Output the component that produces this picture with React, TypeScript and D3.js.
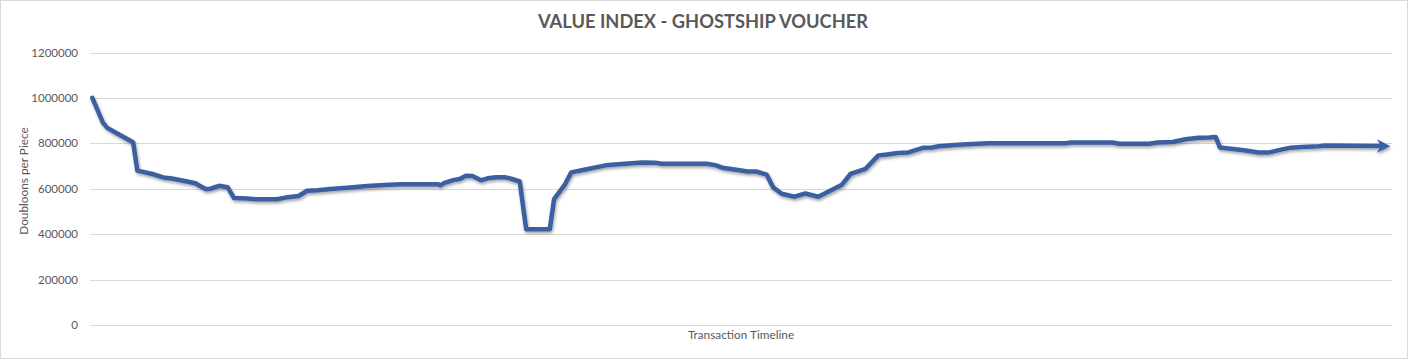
import React, { useEffect, useRef } from "react";
import * as d3 from "d3";

// transaction position along the timeline (0..600) and value
const timeline = [
  0, 5, 7, 12, 19, 21, 28, 33, 37, 43, 48, 50, 53, 55, 59, 63, 66, 72, 76, 86,
  91, 96, 100, 105, 111, 120, 128, 136, 144, 161, 162, 164, 168, 171, 174, 177,
  181, 184, 188, 192, 195, 199, 202, 213, 215, 220, 223, 229, 239, 248, 256,
  262, 265, 286, 290, 294, 299, 305, 309, 314, 317, 321, 327, 332, 338, 349,
  353, 360, 366, 370, 375, 380, 387, 391, 394, 403, 410, 417, 453, 456, 475,
  478, 492, 496, 503, 509, 515, 520, 523, 525, 530, 537, 543, 548, 553, 558,
  563, 571, 574, 600,
];
const values = [
  1000000, 890000, 868000, 841000, 805000, 680000, 665000, 650000, 645000,
  634000, 624000, 613000, 598000, 600000, 613000, 607000, 559000, 557000,
  554000, 554000, 563000, 568000, 591000, 593000, 599000, 606000, 612000,
  616000, 620000, 620000, 615000, 626000, 638000, 643000, 657000, 656000,
  637000, 646000, 651000, 651000, 644000, 632000, 422000, 422000, 554000,
  618000, 672000, 684000, 703000, 710000, 716000, 715000, 710000, 710000,
  704000, 691000, 685000, 676000, 676000, 662000, 606000, 578000, 565000,
  579000, 565000, 618000, 665000, 688000, 747000, 751000, 757000, 760000,
  781000, 782000, 787000, 794000, 797000, 800000, 800000, 804000, 804000,
  798000, 798000, 804000, 806000, 818000, 825000, 826000, 828000, 782000,
  776000, 768000, 760000, 760000, 771000, 781000, 784000, 787000, 790000,
  788000,
];
const yTicks = [0, 200000, 400000, 600000, 800000, 1000000, 1200000];

const title = "VALUE INDEX - GHOSTSHIP VOUCHER";
const yTitle = "Doubloons per Piece";
const xTitle = "Transaction Timeline";

const App = () => {
  const svgRef = useRef<SVGSVGElement>(null);

  useEffect(() => {
    const width = 1408,
      height = 359;
    const textColor = "#595959",
      gridColor = "#d9d9d9",
      lineColor = "#3a5fa1";
    const font = "Lato, 'Open Sans', sans-serif";

    const svg = d3
      .select(svgRef.current)
      .attr("width", width)
      .attr("height", height)
      .html("");

    const defs = svg.append("defs");
    const shadow = defs
      .append("filter")
      .attr("id", "shadow")
      .attr("x", "-5%")
      .attr("y", "-20%")
      .attr("width", "110%")
      .attr("height", "140%");
    shadow
      .append("feDropShadow")
      .attr("dx", 1)
      .attr("dy", 2)
      .attr("stdDeviation", 1.5)
      .attr("flood-color", "#000")
      .attr("flood-opacity", 0.35);

    defs
      .append("marker")
      .attr("id", "arrow")
      .attr("viewBox", "0 0 10 10")
      .attr("refX", 3)
      .attr("refY", 5)
      .attr("markerWidth", 3)
      .attr("markerHeight", 3)
      .attr("orient", "auto")
      .append("path")
      .attr("d", "M0,0 L10,5 L0,10 L3,5 Z")
      .attr("fill", lineColor);

    // chart frame
    svg
      .append("rect")
      .attr("x", 0.5)
      .attr("y", 0.5)
      .attr("width", width - 1)
      .attr("height", height - 1)
      .attr("fill", "#fff")
      .attr("stroke", gridColor);

    const x = d3.scaleLinear().domain([0, 600]).range([92.3, 1381]);
    const y = d3.scaleLinear().domain([0, 1200000]).range([325, 52.5]);

    // gridlines
    svg
      .append("g")
      .selectAll("line")
      .data(yTicks)
      .enter()
      .append("line")
      .attr("x1", 90)
      .attr("x2", 1392)
      .attr("y1", (d) => Math.round(y(d)) + 0.5)
      .attr("y2", (d) => Math.round(y(d)) + 0.5)
      .attr("stroke", gridColor)
      .attr("stroke-width", 1);

    // tick labels
    svg
      .append("g")
      .selectAll("text")
      .data(yTicks)
      .enter()
      .append("text")
      .attr("x", 78)
      .attr("y", (d) => y(d))
      .attr("dy", "0.35em")
      .attr("text-anchor", "end")
      .style("font-family", font)
      .style("font-size", "11.5px")
      .style("fill", textColor)
      .text((d) => d);

    // line
    const line = d3
      .line<number>()
      .x((_, i) => x(timeline[i]))
      .y((d) => y(d));

    svg
      .append("path")
      .datum(values)
      .attr("d", line)
      .attr("fill", "none")
      .attr("stroke", lineColor)
      .attr("stroke-width", 4.5)
      .attr("stroke-linejoin", "round")
      .attr("stroke-linecap", "round")
      .attr("marker-end", "url(#arrow)")
      .attr("filter", "url(#shadow)");

    // titles
    svg
      .append("text")
      .attr("x", 703)
      .attr("y", 28)
      .attr("text-anchor", "middle")
      .style("font-family", font)
      .style("font-size", "18.3px")
      .style("font-weight", "bold")
      .style("fill", textColor)
      .text(title);

    svg
      .append("text")
      .attr("transform", "translate(28, 181) rotate(-90)")
      .attr("text-anchor", "middle")
      .style("font-family", font)
      .style("font-size", "11.8px")
      .style("fill", textColor)
      .text(yTitle);

    svg
      .append("text")
      .attr("x", 741)
      .attr("y", 339)
      .attr("text-anchor", "middle")
      .style("font-family", font)
      .style("font-size", "11.8px")
      .style("fill", textColor)
      .text(xTitle);
  }, []);

  return (
    <svg
      ref={svgRef}
      style={{ position: "absolute", left: 0, top: 0, display: "block" }}
    ></svg>
  );
};

export default App;
